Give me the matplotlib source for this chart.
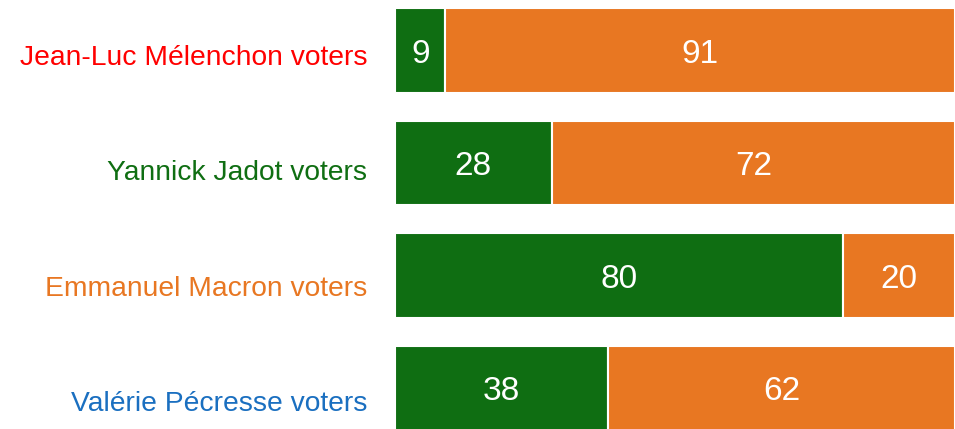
import matplotlib.pyplot as plt
from matplotlib.transforms import blended_transform_factory

groups = ["Jean-Luc Mélenchon voters", "Yannick Jadot voters",
          "Emmanuel Macron voters", "Valérie Pécresse voters"]
label_colors = ["#FF0000", "#0F6E12", "#E87722", "#1A6FC0"]
green_vals = [9, 28, 80, 38]
orange_vals = [91, 72, 20, 62]

GREEN = "#0F6E12"
ORANGE = "#E87722"

plt.rcParams['font.family'] = ['Liberation Sans', 'DejaVu Sans']

fig = plt.figure(figsize=(9.55, 4.29), dpi=100)
ax = fig.add_axes([395 / 955, 0, 1 - 395 / 955, 1])

y = list(range(len(groups)))
ax.barh(y, green_vals, height=0.755, color=GREEN, edgecolor="white", linewidth=1.5)
ax.barh(y, orange_vals, left=green_vals, height=0.755, color=ORANGE,
        edgecolor="white", linewidth=1.5)

for i in y:
    ax.text(green_vals[i] / 2, i + 0.108, str(green_vals[i]), ha="center",
            va="baseline", color="white", fontsize=24)
    ax.text(green_vals[i] + orange_vals[i] / 2, i + 0.108, str(orange_vals[i]),
            ha="center", va="baseline", color="white", fontsize=24)

# category labels, slightly lower than bar centres as in the original
trans = blended_transform_factory(ax.transAxes, ax.transData)
for i, (g, c) in enumerate(zip(groups, label_colors)):
    ax.text(-0.05, i + 0.13 + 0.025 * i, g, transform=trans, ha="right",
            va="baseline", color=c, fontsize=20.3)

ax.set_xlim(0, 100)
ax.set_ylim(3.364, -0.449)
ax.set_xticks([])
ax.set_yticks([])
for s in ax.spines.values():
    s.set_visible(False)

fig.savefig("out.png", dpi=100)
